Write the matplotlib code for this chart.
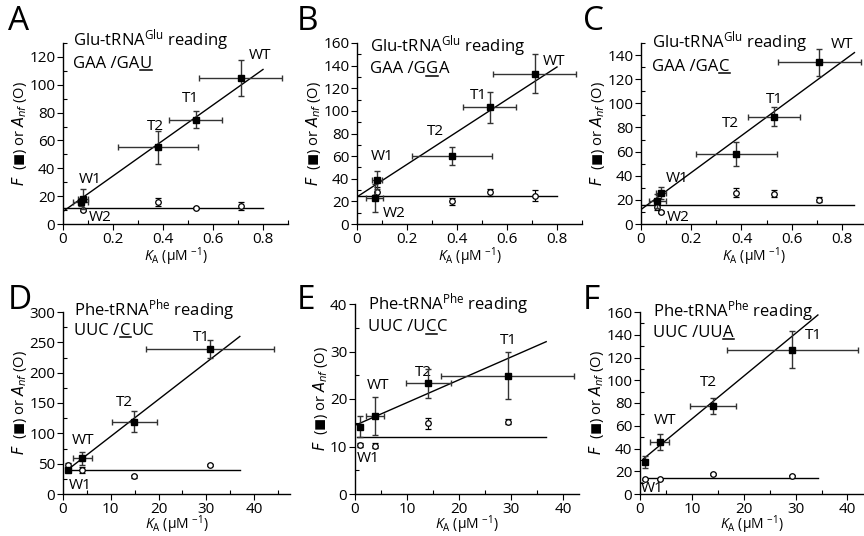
import numpy as np
import matplotlib
matplotlib.use("Agg")
import matplotlib.pyplot as plt
from matplotlib.ticker import MultipleLocator, FuncFormatter
from matplotlib.lines import Line2D

plt.rcParams['font.family'] = ['Open Sans', 'DejaVu Sans']
plt.rcParams['mathtext.fontset'] = 'custom'
plt.rcParams['mathtext.rm'] = 'Open Sans'
plt.rcParams['mathtext.it'] = 'Open Sans:italic'
plt.rcParams['mathtext.bf'] = 'Open Sans:bold'

# ---------------- data ----------------
panel_letters = ["A", "B", "C", "D", "E", "F"]
titles_line1 = [r"Glu-tRNA$^{\mathrm{Glu}}$ reading"] * 3 + [r"Phe-tRNA$^{\mathrm{Phe}}$ reading"] * 3
# second line split as (prefix, underlined letter, suffix)
titles_line2 = [("GAA /GA", "U", ""), ("GAA /G", "G", "A"), ("GAA /GA", "C", ""),
                ("UUC /", "C", "UC"), ("UUC /U", "C", "C"), ("UUC /UU", "A", "")]

# Panel A
A_names = ["W1", "W2", "T2", "T1", "WT"]
A_ka = [0.08, 0.07, 0.38, 0.53, 0.71]
A_ka_err = [0.02, 0.03, 0.16, 0.105, 0.165]
A_F = [18, 16, 55, 75, 105]
A_F_err = [7, 3, 12, 6, 13]
A_Anf = [10, 15, 16, 11.5, 13]
A_Anf_err = [1, 1, 3, 1, 3]
A_fit = (9, 127.5)      # intercept, slope
A_flat = 11.5

# Panel B
B_names = ["W1", "W2", "T2", "T1", "WT"]
B_ka = [0.08, 0.07, 0.38, 0.53, 0.71]
B_ka_err = [0.02, 0.035, 0.16, 0.105, 0.165]
B_F = [39, 23, 60, 103, 133]
B_F_err = [8, 12, 8, 14, 17]
B_Anf = [28, 24, 20, 28, 25]
B_Anf_err = [5, 2, 3, 3, 5]
B_fit = (24, 143.5)
B_flat = 25

# Panel C
C_names = ["W1", "W2", "T2", "T1", "WT"]
C_ka = [0.08, 0.065, 0.38, 0.53, 0.71]
C_ka_err = [0.02, 0.035, 0.16, 0.105, 0.165]
C_F = [26, 19, 58, 89, 134]
C_F_err = [5, 6, 10, 8, 11]
C_Anf = [10, 14, 26, 25, 20]
C_Anf_err = [1, 2, 4, 3, 2]
C_fit = (12, 153)
C_flat = 15.5

# Panel D
D_names = ["W1", "WT", "T2", "T1"]
D_ka = [1.05, 4.05, 14.9, 30.8]
D_ka_err = [0.3, 2.0, 4.7, 13.4]
D_F = [40, 59, 119, 239]
D_F_err = [3, 11, 17, 15]
D_Anf = [48, 40, 29, 48]
D_Anf_err = [3, 5, 2, 2]
D_fit = (34, 6.1)
D_flat = 40

# Panel E
E_names = ["W1", "WT", "T2", "T1"]
E_ka = [0.9, 3.85, 14.1, 29.3]
E_ka_err = [0.2, 1.8, 4.3, 12.7]
E_F = [14.2, 16.5, 23.3, 24.9]
E_F_err = [2.3, 4, 3, 5]
E_Anf = [10.3, 10.2, 14.9, 15.2]
E_Anf_err = [0.5, 0.5, 1.2, 0.5]
E_fit = (14.45, 0.48)
E_flat = 12.1

# Panel F
F_names = ["W1", "WT", "T2", "T1"]
F_ka = [0.9, 3.8, 14.1, 29.4]
F_ka_err = [0.2, 1.8, 4.4, 12.6]
F_F = [28, 46, 77.5, 127]
F_F_err = [5, 7, 7, 16]
F_Anf = [13, 13, 17.5, 16]
F_Anf_err = [0.5, 0.5, 1, 0.5]
F_fit = (28.4, 3.76)
F_flat = 14.1

panels = [
    (A_names, A_ka, A_ka_err, A_F, A_F_err, A_Anf, A_Anf_err, A_fit, A_flat),
    (B_names, B_ka, B_ka_err, B_F, B_F_err, B_Anf, B_Anf_err, B_fit, B_flat),
    (C_names, C_ka, C_ka_err, C_F, C_F_err, C_Anf, C_Anf_err, C_fit, C_flat),
    (D_names, D_ka, D_ka_err, D_F, D_F_err, D_Anf, D_Anf_err, D_fit, D_flat),
    (E_names, E_ka, E_ka_err, E_F, E_F_err, E_Anf, E_Anf_err, E_fit, E_flat),
    (F_names, F_ka, F_ka_err, F_F, F_F_err, F_Anf, F_Anf_err, F_fit, F_flat),
]

# ---------------- layout (pixels: left, bottom, width, height) ----------------
W_PX, H_PX = 864, 536
axes_px = [
    (63, 224, 225, 181),
    (357, 224, 225, 181),
    (641, 224, 226, 181),
    (63, 494, 227, 182),
    (355, 494, 224, 190),
    (640, 494, 223, 182),
]
xlims = [(0, 0.9), (0, 0.9), (0, 0.9), (0, 47.5), (0, 43), (0, 43)]
ylims = [(0, 130), (0, 160), (0, 150), (0, 300), (0, 40), (0, 160)]
xmajor = [0.2, 0.2, 0.2, 10, 10, 10]
ymajor = [20, 20, 20, 50, 10, 20]
fit_ranges = [(0, 0.8), (0, 0.8), (0, 0.85), (1, 37), (0.3, 36.7), (0.65, 34.3)]
flat_ranges = [(0, 0.8), (0, 0.8), (0, 0.85), (1, 37), (0.3, 36.7), (0.65, 34.3)]
label_pos = [
    {"W1": (0.11, 32), "W2": (0.15, 5), "T2": (0.37, 70), "T1": (0.51, 90), "WT": (0.79, 121)},
    {"W1": (0.10, 60), "W2": (0.147, 9.5), "T2": (0.313, 82), "T1": (0.487, 114), "WT": (0.787, 144)},
    {"W1": (0.143, 38), "W2": (0.15, 5), "T2": (0.355, 83.5), "T1": (0.532, 103), "WT": (0.80, 149)},
    {"W1": (3.5, 14), "WT": (4.2, 88), "T2": (12.9, 150), "T1": (29, 258)},
    {"W1": (2.6, 7.4), "WT": (4.5, 22.8), "T2": (13.1, 25.6), "T1": (29.5, 32.3)},
    {"W1": (2.3, 4.4), "WT": (4.8, 64.6), "T2": (13.2, 98), "T1": (33.5, 139.5)},
]
title_x = [0.044, 0.058, 0.05, 0.05, 0.06, 0.06]
title_y1 = [0.989, 0.956, 0.974, 0.98, 0.969, 0.978]
title_y2 = [0.864, 0.834, 0.846, 0.875, 0.857, 0.865]
letter_px = [(8, 5), (297, 5), (583, 5), (8, 284), (297, 284), (583, 284)]
xlabel_pad = [-1, -1, -1, -2, -2, -2]
label_fs = 11
title_fs = 12

fig = plt.figure(figsize=(8.64, 5.36), dpi=100)
renderer = fig.canvas.get_renderer()
FW, FH = fig.bbox.width, fig.bbox.height


def underlined_line(ax, xa, ya, parts, fs):
    prefix, ul, suffix = parts
    x0, y0 = ax.transAxes.transform((xa, ya))
    t1 = fig.text(x0 / FW, y0 / FH, prefix, fontsize=fs, va="baseline", ha="left")
    w1 = t1.get_window_extent(renderer).width
    t2 = fig.text((x0 + w1 + 0.5) / FW, y0 / FH, ul, fontsize=fs, va="baseline", ha="left")
    bb2 = t2.get_window_extent(renderer)
    fig.add_artist(Line2D([bb2.x0 / FW, bb2.x1 / FW],
                          [(y0 - 2.5) / FH, (y0 - 2.5) / FH],
                          transform=fig.transFigure, color="black", lw=1.1))
    if suffix:
        fig.text((bb2.x1 + 0.5) / FW, y0 / FH, suffix, fontsize=fs, va="baseline", ha="left")


for i, (names, ka, kaerr, F, Ferr, Anf, Anferr, fit, flat) in enumerate(panels):
    l, b, w, h = axes_px[i]
    ax = fig.add_axes([l / W_PX, 1 - b / H_PX, w / W_PX, h / H_PX])
    ax.set_xlim(*xlims[i])
    ax.set_ylim(*ylims[i])
    for s in ["top", "right"]:
        ax.spines[s].set_visible(False)
    for s in ["left", "bottom"]:
        ax.spines[s].set_linewidth(1.0)
    ax.xaxis.set_major_locator(MultipleLocator(xmajor[i]))
    ax.xaxis.set_minor_locator(MultipleLocator(xmajor[i] / 2))
    ax.yaxis.set_major_locator(MultipleLocator(ymajor[i]))
    ax.yaxis.set_minor_locator(MultipleLocator(ymajor[i] / 2))
    ax.tick_params(which="major", direction="out", length=4, width=0.8, labelsize=11, pad=1.5)
    ax.tick_params(which="minor", direction="in", length=3, width=0.8)
    ax.xaxis.set_major_formatter(FuncFormatter(lambda v, p: ("%g" % v)))

    # fit lines
    x0, x1 = fit_ranges[i]
    xs = np.array([x0, x1])
    ax.plot(xs, fit[0] + fit[1] * xs, color="black", lw=1.0, zorder=2)
    f0, f1 = flat_ranges[i]
    ax.plot([f0, f1], [flat, flat], color="black", lw=1.0, zorder=2)

    # open circles
    ax.errorbar(ka, Anf, yerr=Anferr, fmt="o", ms=4, mfc="white", mec="black", mew=0.9,
                ecolor="black", elinewidth=0.8, capsize=2, capthick=0.8, zorder=3)
    # filled squares
    ax.errorbar(ka, F, yerr=Ferr, xerr=kaerr, fmt="s", ms=4.5, mfc="black", mec="black",
                ecolor="#333333", elinewidth=1.0, capsize=2, capthick=1.0, zorder=4)

    for n in names:
        px, py = label_pos[i][n]
        ax.text(px, py, n, fontsize=label_fs, ha="center", va="center")

    ax.text(title_x[i], title_y1[i], titles_line1[i], transform=ax.transAxes, fontsize=title_fs,
            ha="left", va="baseline")
    underlined_line(ax, title_x[i], title_y2[i], titles_line2[i], title_fs)

    ax.set_xlabel(r"$K_{\mathrm{A}}$ (µM $^{-1}$)", fontsize=10, labelpad=xlabel_pad[i])
    ax.set_ylabel("$F$  ($\u25fc$) or $A_{nf}$ (O)", fontsize=10.5, labelpad=0,
                  math_fontfamily="dejavusans")

    lx, ly = letter_px[i]
    fig.text(lx / W_PX, 1 - ly / H_PX, panel_letters[i], fontsize=24, ha="left", va="top")

fig.savefig("out.png", dpi=100)
